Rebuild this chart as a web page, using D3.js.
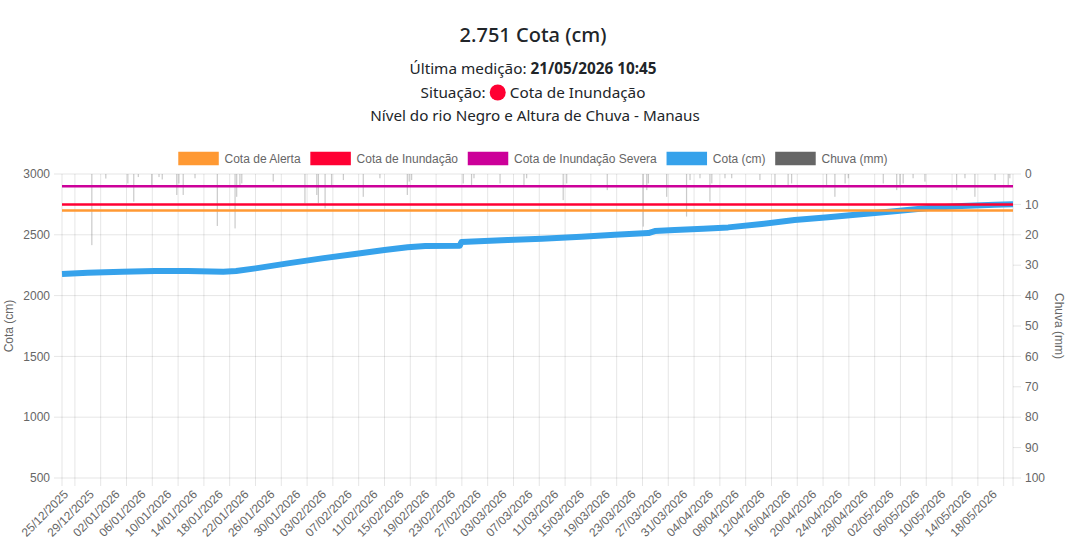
<!DOCTYPE html>
<html lang="pt-BR">
  <head>
    <meta charset="UTF-8" />
    <title>Nível do rio Negro e Altura de Chuva - Manaus</title>
    <script src="https://d3js.org/d3.v7.min.js"></script>
    <style>
      body {
        margin: 0;
        background: #fff;
      }
      svg {
        display: block;
      }
      .head {
        font-family: "Noto Sans", "Open Sans", sans-serif;
        fill: #212529;
        text-anchor: middle;
      }
      .axis-text {
        font-family: Arial, "Liberation Sans", Helvetica, sans-serif;
        font-size: 12px;
        fill: #666;
      }
    </style>
  </head>
  <body>
    <svg width="1066" height="545"></svg>
    <script>
      // Cota (cm)
      const cotaDates = [
        "25/12/2025 00:00", "29/12/2025 00:00", "03/01/2026 08:00", "08/01/2026 10:00",
        "13/01/2026 12:00", "19/01/2026 00:00", "21/01/2026 00:00", "24/01/2026 00:00",
        "29/01/2026 00:00", "03/02/2026 07:00", "08/02/2026 10:00", "13/02/2026 00:00",
        "16/02/2026 14:00", "19/02/2026 08:00", "24/02/2026 16:00", "24/02/2026 22:00",
        "04/03/2026 02:00", "09/03/2026 10:00", "15/03/2026 12:00", "20/03/2026 17:00",
        "25/03/2026 22:00", "26/03/2026 22:00", "30/03/2026 00:00", "03/04/2026 10:00",
        "07/04/2026 07:00", "12/04/2026 12:00", "17/04/2026 14:00", "22/04/2026 19:00",
        "27/04/2026 00:00", "03/05/2026 02:00", "08/05/2026 07:00", "13/05/2026 12:00",
        "18/05/2026 15:00", "21/05/2026 10:45"
      ];
      const cotaValues = [
        2178, 2188, 2197, 2202, 2202, 2197, 2202, 2224,
        2265, 2306, 2342, 2375, 2397, 2408, 2410, 2440,
        2457, 2468, 2484, 2501, 2514, 2531, 2540, 2550,
        2561, 2589, 2622, 2644, 2665, 2693, 2720, 2737,
        2748, 2751
      ];

      // Chuva (mm)
      const rainDates = [
        "29/12/2025 15:00", "31/12/2025 19:00", "04/01/2026 05:00", "05/01/2026 03:00",
        "05/01/2026 20:00", "07/01/2026 22:00", "09/01/2026 01:00", "09/01/2026 13:00",
        "11/01/2026 19:00", "12/01/2026 03:00", "12/01/2026 19:00", "14/01/2026 15:00",
        "18/01/2026 02:00", "20/01/2026 20:00", "21/01/2026 02:00", "21/01/2026 14:00",
        "21/01/2026 21:00", "26/01/2026 18:00", "31/01/2026 16:00", "02/02/2026 12:00",
        "02/02/2026 18:00", "03/02/2026 19:00", "04/02/2026 19:00", "06/02/2026 15:00",
        "09/02/2026 17:00", "12/02/2026 07:00", "16/02/2026 13:00", "16/02/2026 20:00",
        "17/02/2026 05:00", "25/02/2026 05:00", "26/02/2026 12:00", "26/02/2026 21:00",
        "02/03/2026 22:00", "06/03/2026 15:00", "07/03/2026 01:00", "12/03/2026 17:00",
        "13/03/2026 06:00", "19/03/2026 13:00", "25/03/2026 03:00", "25/03/2026 16:00",
        "25/03/2026 22:00", "28/03/2026 18:00", "31/03/2026 20:00", "01/04/2026 09:00",
        "02/04/2026 22:00", "04/04/2026 11:00", "04/04/2026 18:00", "06/04/2026 19:00",
        "07/04/2026 20:00", "12/04/2026 05:00", "14/04/2026 13:00", "16/04/2026 14:00",
        "17/04/2026 03:00", "22/04/2026 13:00", "23/04/2026 20:00", "25/04/2026 10:00",
        "25/04/2026 22:00", "01/05/2026 08:00", "03/05/2026 10:00", "03/05/2026 22:00",
        "04/05/2026 10:00", "05/05/2026 23:00", "07/05/2026 19:00", "12/05/2026 17:00",
        "14/05/2026 00:00", "15/05/2026 13:00", "18/05/2026 16:00", "20/05/2026 17:00",
        "20/05/2026 23:00"
      ];
      const rainValues = [
        23.4, 1.5, 3.1, 9.1, 1.0, 3.6, 1.0, 1.8,
        6.9, 3.1, 6.9, 1.4, 17.1, 17.9, 7.5, 4.2,
        3.1, 2.5, 9.6, 6.9, 9.6, 11.3, 4.2, 2.0,
        7.5, 1.4, 6.9, 2.5, 2.0, 3.1, 3.6, 1.4,
        3.1, 3.6, 1.4, 8.6, 3.1, 5.3, 17.3, 5.3,
        3.1, 7.5, 14.0, 2.0, 1.4, 9.1, 3.1, 1.4,
        1.4, 2.0, 3.6, 3.6, 3.1, 3.6, 7.5, 3.1,
        1.4, 3.1, 5.3, 3.6, 3.1, 1.4, 2.5, 5.3,
        1.4, 7.5, 2.0, 3.6, 1.4
      ];

      // reference levels
      const levelNames = ["Cota de Alerta", "Cota de Inundação", "Cota de Inundação Severa"];
      const levelValues = [2700, 2750, 2900];
      const levelColors = ["#ff9933", "#ff0033", "#cc0099"];

      const xTickLabels = [
        "25/12/2025", "29/12/2025", "02/01/2026", "06/01/2026", "10/01/2026", "14/01/2026",
        "18/01/2026", "22/01/2026", "26/01/2026", "30/01/2026", "03/02/2026", "07/02/2026",
        "11/02/2026", "15/02/2026", "19/02/2026", "23/02/2026", "27/02/2026", "03/03/2026",
        "07/03/2026", "11/03/2026", "15/03/2026", "19/03/2026", "23/03/2026", "27/03/2026",
        "31/03/2026", "04/04/2026", "08/04/2026", "12/04/2026", "16/04/2026", "20/04/2026",
        "24/04/2026", "28/04/2026", "02/05/2026", "06/05/2026", "10/05/2026", "14/05/2026",
        "18/05/2026"
      ];
      const cotaTicks = [500, 1000, 1500, 2000, 2500, 3000];
      const rainTicks = [0, 10, 20, 30, 40, 50, 60, 70, 80, 90, 100];

      const parseDT = d3.timeParse("%d/%m/%Y %H:%M");
      const parseD = d3.timeParse("%d/%m/%Y");

      const svg = d3.select("svg");
      const area = { left: 62, right: 1013, top: 174, bottom: 478 };

      const x = d3
        .scaleTime()
        .domain([parseDT(cotaDates[0]), parseDT(cotaDates[cotaDates.length - 1])])
        .range([area.left, area.right]);
      const yCota = d3.scaleLinear().domain([500, 3000]).range([area.bottom, area.top]);
      const yRain = d3.scaleLinear().domain([0, 100]).range([area.top, area.bottom]);

      // Header
      svg.append("text").attr("class", "head").attr("x", 533).attr("y", 42)
        .style("font-size", "20px").style("font-weight", 500)
        .text(d3.format(",")(cotaValues[cotaValues.length - 1]).replace(",", ".") + " Cota (cm)");

      const l2 = svg.append("text").attr("class", "head").attr("x", 533).attr("y", 74)
        .style("font-size", "15.3px");
      l2.append("tspan").text("Última medição: ");
      l2.append("tspan").style("font-weight", 700).text(cotaDates[cotaDates.length - 1]);

      // Situação line: text + red dot + text
      const sit = svg.append("g");
      const s1 = sit.append("text").attr("class", "head").attr("y", 98)
        .style("font-size", "15.3px").style("text-anchor", "start").text("Situação:");
      const s2 = sit.append("text").attr("class", "head").attr("y", 98)
        .style("font-size", "15.3px").style("text-anchor", "start").text(levelNames[1]);
      const w1 = s1.node().getComputedTextLength();
      const w2 = s2.node().getComputedTextLength();
      const dotR = 8, gap = 4;
      const total = w1 + gap + dotR * 2 + gap + w2;
      const sx = 533 - total / 2;
      s1.attr("x", sx);
      sit.append("circle").attr("cx", sx + w1 + gap + dotR).attr("cy", 92.5).attr("r", dotR)
        .attr("fill", levelColors[1]);
      s2.attr("x", sx + w1 + gap * 2 + dotR * 2);

      svg.append("text").attr("class", "head").attr("x", 535).attr("y", 121)
        .style("font-size", "15.2px").text("Nível do rio Negro e Altura de Chuva - Manaus");

      // Legend
      const legendItems = [
        ...levelNames.map((n, i) => ({ name: n, color: levelColors[i] })),
        { name: "Cota (cm)", color: "#36a2eb" },
        { name: "Chuva (mm)", color: "#666666" }
      ];
      const legend = svg.append("g");
      let lx = 0;
      legendItems.forEach((it) => {
        const g = legend.append("g").attr("transform", `translate(${lx},0)`);
        g.append("rect").attr("x", 0.5).attr("y", 152.5).attr("width", 39).attr("height", 12)
          .attr("fill", it.color).attr("stroke", it.color).attr("stroke-width", 1.5);
        const t = g.append("text").attr("class", "axis-text").attr("x", 46).attr("y", 163)
          .text(it.name);
        lx += 46 + t.node().getComputedTextLength() + 10;
      });
      legend.attr("transform", `translate(${533 - (lx - 10) / 2},0)`);

      // Grid: vertical lines sit halfway between the date ticks
      const tickDates = xTickLabels.map(parseD);
      const step = x(tickDates[1]) - x(tickDates[0]);
      const vGrid = tickDates.map((d) => x(d) + step / 2);

      svg.append("g").selectAll("line").data(vGrid).join("line")
        .attr("x1", (d) => d).attr("x2", (d) => d)
        .attr("y1", area.top).attr("y2", area.bottom + 8)
        .attr("stroke", "rgba(0,0,0,0.1)");

      svg.append("g").selectAll("line").data(cotaTicks).join("line")
        .attr("x1", area.left - 8).attr("x2", area.right)
        .attr("y1", (d) => yCota(d)).attr("y2", (d) => yCota(d))
        .attr("stroke", "rgba(0,0,0,0.1)");

      svg.append("g").selectAll("line").data(rainTicks).join("line")
        .attr("x1", area.right).attr("x2", area.right + 8)
        .attr("y1", (d) => yRain(d)).attr("y2", (d) => yRain(d))
        .attr("stroke", "rgba(0,0,0,0.1)");

      // axis borders
      svg.append("line").attr("x1", area.left).attr("x2", area.left)
        .attr("y1", area.top).attr("y2", area.bottom + 8).attr("stroke", "rgba(0,0,0,0.1)");
      svg.append("line").attr("x1", area.right).attr("x2", area.right)
        .attr("y1", area.top).attr("y2", area.bottom + 8).attr("stroke", "rgba(0,0,0,0.1)");

      // Axis labels
      svg.append("g").selectAll("text").data(cotaTicks).join("text")
        .attr("class", "axis-text").attr("x", area.left - 12).attr("y", (d) => yCota(d))
        .attr("dy", "0.35em").style("text-anchor", "end").text((d) => d);

      svg.append("g").selectAll("text").data(rainTicks).join("text")
        .attr("class", "axis-text").attr("x", area.right + 12).attr("y", (d) => yRain(d))
        .attr("dy", "0.35em").text((d) => d);

      svg.append("g").selectAll("text").data(tickDates).join("text")
        .attr("class", "axis-text")
        .attr("transform", (d) => `translate(${x(d) + 4},${area.bottom + 14}) rotate(-45)`)
        .attr("dy", "0.35em").style("text-anchor", "end")
        .text((d, i) => xTickLabels[i]);

      svg.append("text").attr("class", "axis-text")
        .attr("transform", `translate(13,${(area.top + area.bottom) / 2}) rotate(-90)`)
        .style("text-anchor", "middle").text("Cota (cm)");
      svg.append("text").attr("class", "axis-text")
        .attr("transform", `translate(1055,${(area.top + area.bottom) / 2}) rotate(90)`)
        .style("text-anchor", "middle").text("Chuva (mm)");

      // Chuva bars (drawn first, behind)
      svg.append("g").selectAll("rect").data(rainDates).join("rect")
        .attr("x", (d) => x(parseDT(d)) - 0.6)
        .attr("y", area.top)
        .attr("width", 1.2)
        .attr("height", (d, i) => yRain(rainValues[i]) - area.top)
        .attr("fill", "rgba(102,102,102,0.35)");

      // Cota line
      const cotaData = cotaDates.map((d, i) => ({ date: parseDT(d), v: cotaValues[i] }));
      svg.append("path").datum(cotaData)
        .attr("fill", "none").attr("stroke", "#36a2eb").attr("stroke-width", 6)
        .attr("stroke-linejoin", "round")
        .attr("d", d3.line().x((d) => x(d.date)).y((d) => yCota(d.v)));

      // Reference lines (first dataset on top)
      const [x0, x1] = x.domain();
      levelValues.map((v, i) => i).reverse().forEach((i) => {
        svg.append("path").datum([x0, x1])
          .attr("fill", "none").attr("stroke", levelColors[i]).attr("stroke-width", 2.5)
          .attr("d", d3.line().x((d) => x(d)).y(() => yCota(levelValues[i])));
      });
    </script>
  </body>
</html>
